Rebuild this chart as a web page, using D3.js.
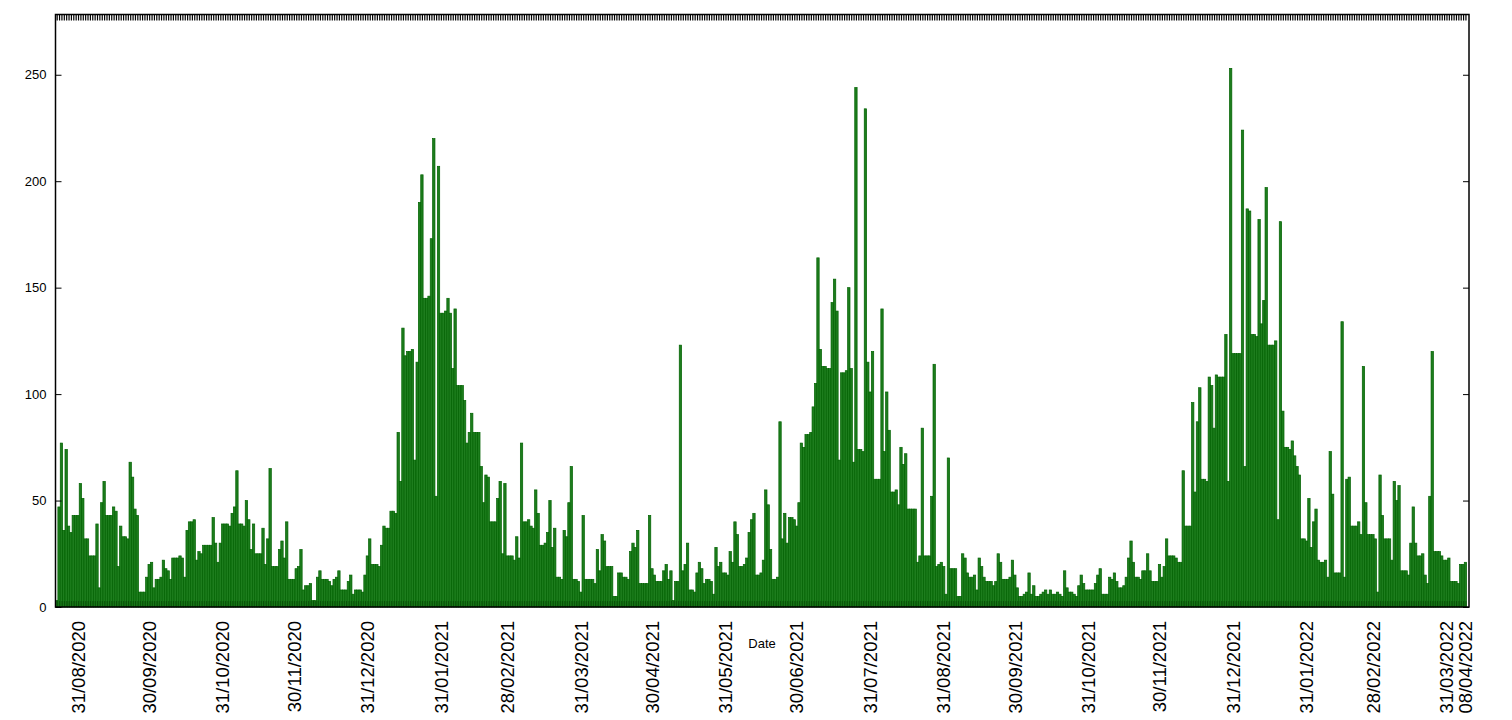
<!DOCTYPE html>
<html>
<head>
<meta charset="utf-8">
<script src="https://cdn.jsdelivr.net/npm/d3@7"></script>
<style>
  html, body { margin: 0; padding: 0; background: #fff; }
  svg { display: block; font-family: "Liberation Sans", Arial, sans-serif; }
</style>
</head>
<body>
<svg id="chart" width="1512" height="720"></svg>
<script>
// ---- data ----
const startDate = "2020-08-22"; // first daily value
const values = [
3,47,77,36,74,38,35,43,43,43,58,51,32,32,24,24,24,39,9,49,
59,43,43,43,47,45,19,38,33,33,32,68,61,46,43,7,7,7,14,20,
21,9,13,13,14,22,18,17,13,23,23,23,24,23,14,36,40,40,41,22,
26,25,29,29,29,29,42,30,21,30,39,39,39,38,44,47,64,39,39,38,
50,41,27,39,25,25,25,37,20,32,65,19,19,19,27,31,23,40,13,13,
13,18,19,27,8,10,10,11,3,3,14,17,13,13,13,12,10,13,14,17,
8,8,8,12,15,6,8,8,8,7,15,24,32,20,20,20,19,29,38,37,
37,45,45,44,82,59,131,118,120,120,121,69,115,190,203,145,145,146,173,220,
52,207,138,138,139,145,138,112,140,104,104,104,97,77,82,91,82,82,82,66,
49,62,61,40,40,40,51,59,25,58,24,24,24,22,33,23,77,40,40,41,
38,37,55,44,29,29,30,35,50,28,37,14,14,13,36,33,49,66,13,13,
12,7,43,13,13,13,13,11,27,17,34,31,19,19,19,5,5,16,16,14,
14,13,26,30,28,36,11,11,11,11,43,18,15,12,12,12,17,20,13,17,
3,12,12,123,17,20,30,8,8,7,16,21,18,11,13,13,12,6,28,19,
21,16,16,15,26,21,40,34,19,19,20,23,35,41,44,15,15,16,22,55,
48,27,13,13,14,87,32,44,30,42,42,41,38,49,77,75,81,81,82,94,
105,164,121,113,113,112,112,143,154,139,69,110,110,111,150,112,68,244,74,74,
73,234,115,101,120,60,60,60,140,73,101,83,54,54,55,48,75,67,72,46,
46,46,46,21,24,84,24,24,24,52,114,19,20,21,19,6,70,18,18,18,
5,5,25,23,16,14,14,15,8,23,19,14,12,12,12,10,12,25,21,13,
13,13,14,22,15,9,5,5,6,7,16,6,10,5,5,6,7,8,6,8,
6,6,7,6,5,17,9,7,7,6,5,10,15,11,8,8,8,8,11,15,
18,6,6,6,14,13,16,12,9,9,10,14,23,31,21,14,14,13,17,17,
25,17,12,12,12,20,14,19,32,24,24,24,23,21,21,64,38,38,38,96,
54,87,103,60,60,59,108,104,84,109,108,108,108,128,59,253,119,119,119,119,
224,66,187,186,128,128,127,182,133,144,197,123,123,123,125,41,181,92,75,75,
74,78,71,66,62,32,32,31,51,28,40,46,22,21,21,22,14,73,53,16,
16,16,134,14,60,61,38,38,38,40,34,113,49,34,34,34,32,7,62,43,
32,32,32,22,59,50,57,17,17,17,15,30,47,30,24,24,25,15,11,52,
120,26,26,26,24,22,22,23,12,12,12,11,20,20,21
];
const xTickDates = [
  "2020-08-31","2020-09-30","2020-10-31","2020-11-30","2020-12-31",
  "2021-01-31","2021-02-28","2021-03-31","2021-04-30","2021-05-31",
  "2021-06-30","2021-07-31","2021-08-31","2021-09-30","2021-10-31",
  "2021-11-30","2021-12-31","2022-01-31","2022-02-28","2022-03-31",
  "2022-04-08"
];
const yTicks = [0, 50, 100, 150, 200, 250];
const xLabel = "Date";

// ---- layout ----
const DAY = 86400000;
const parse = d3.utcParse("%Y-%m-%d");
const fmt = d3.utcFormat("%d/%m/%Y");
const t0 = parse(startDate);
const dates = values.map((v, i) => new Date(t0.getTime() + i * DAY));
const data = values.map((v, i) => ({ date: dates[i], value: v }));

const L = 55.5, R = 1469, T = 14.5, B = 607;
const svg = d3.select("#chart");

const x = d3.scaleUtc()
  .domain([new Date(t0.getTime() - DAY / 2), new Date(dates[dates.length - 1].getTime() + DAY * 1.5)])
  .range([L, R]);
const y = d3.scaleLinear().domain([0, 278.3]).range([B, T]);
const bw = x(new Date(t0.getTime() + DAY)) - x(t0);

// bars
svg.append("g").selectAll("rect").data(data).join("rect")
  .attr("x", d => x(d.date) - bw / 2)
  .attr("y", d => y(d.value))
  .attr("width", bw)
  .attr("height", d => y(0) - y(d.value))
  .attr("fill", "#1d7d1d")
  .attr("stroke", "#006200")
  .attr("stroke-width", 0.7);

// per-day ticks bottom & top
const dayTicks = dates;
const gxb = svg.append("g").attr("transform", `translate(0,${B})`)
  .call(d3.axisBottom(x).tickValues(dayTicks).tickSize(-6).tickFormat(""));
const gxt = svg.append("g").attr("transform", `translate(0,${T})`)
  .call(d3.axisTop(x).tickValues(dayTicks).tickSize(-6).tickFormat(""));
gxb.select(".domain").remove();
gxt.select(".domain").remove();
gxb.selectAll(".tick line").attr("stroke", "#003000").attr("stroke-width", 0.5);
gxt.selectAll(".tick line").attr("stroke", "#000").attr("stroke-width", 1.2);

// labelled x ticks
const gxl = svg.append("g").attr("transform", `translate(0,${B})`)
  .call(d3.axisBottom(x).tickValues(xTickDates.map(parse)).tickSize(0).tickFormat(fmt));
gxl.select(".domain").remove();
gxl.selectAll(".tick text")
  .attr("transform", "translate(0,14) rotate(-90)")
  .attr("text-anchor", "end")
  .attr("x", 0).attr("y", 0).attr("dy", "0.34em")
  .attr("fill", "#000")
  .style("font-size", "18.5px");

// y axes
const gyl = svg.append("g").attr("transform", `translate(${L},0)`)
  .call(d3.axisLeft(y).tickValues(yTicks).tickSize(-6).tickPadding(9));
gyl.select(".domain").remove();
gyl.selectAll(".tick text").attr("fill", "#000").style("font-size", "13px");
gyl.selectAll(".tick line").attr("stroke", "#000");

const gyr = svg.append("g").attr("transform", `translate(${R},0)`)
  .call(d3.axisRight(y).tickValues(yTicks).tickSize(-6).tickFormat(""));
gyr.select(".domain").remove();
gyr.selectAll(".tick line").attr("stroke", "#000");

// frame
svg.append("rect")
  .attr("x", L).attr("y", T).attr("width", R - L).attr("height", B - T)
  .attr("fill", "none").attr("stroke", "#000").attr("stroke-width", 1.5);

// x axis title
svg.append("text")
  .attr("x", 762).attr("y", 648)
  .attr("text-anchor", "middle")
  .style("font-size", "13px")
  .text(xLabel);
</script>
</body>
</html>
